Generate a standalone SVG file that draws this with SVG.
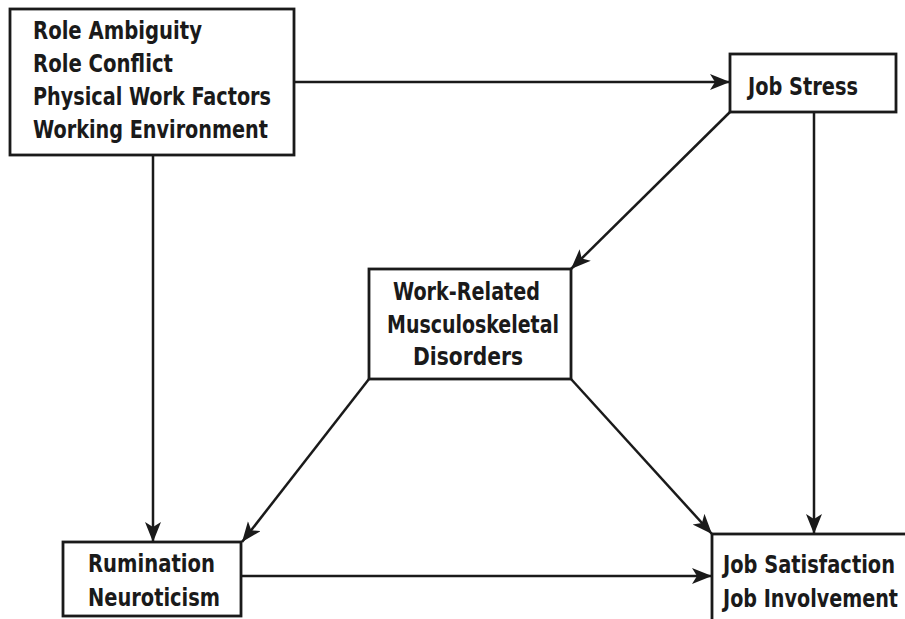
<svg xmlns="http://www.w3.org/2000/svg" width="905" height="619" viewBox="0 0 905 619">
<style>
.box{fill:#fff;stroke:#1a1a1a;stroke-width:2.8}
.lbl{font-family:"DejaVu Sans Condensed","DejaVu Sans",sans-serif;font-stretch:condensed;font-weight:bold;font-size:25px;fill:#1a1a1a}
.edge{fill:none;stroke:#1a1a1a;stroke-width:2.5}
</style>
<defs>
<marker id="ah" markerUnits="userSpaceOnUse" markerWidth="22" markerHeight="18" refX="20" refY="8" orient="auto">
<path d="M0,0 L20,8 L0,16 L5,8 z" fill="#1a1a1a"/>
</marker>
</defs>
<rect width="905" height="619" fill="#fff"/>
<g id="connectors">
<line class="edge" x1="294" y1="82" x2="730" y2="82" marker-end="url(#ah)"/>
<line class="edge" x1="153" y1="155" x2="153" y2="542" marker-end="url(#ah)"/>
<line class="edge" x1="730" y1="112" x2="571" y2="269" marker-end="url(#ah)"/>
<line class="edge" x1="814" y1="112" x2="814" y2="534" marker-end="url(#ah)"/>
<line class="edge" x1="369" y1="379" x2="242" y2="542" marker-end="url(#ah)"/>
<line class="edge" x1="571" y1="379" x2="712" y2="534" marker-end="url(#ah)"/>
<line class="edge" x1="241" y1="576" x2="712" y2="576" marker-end="url(#ah)"/>
</g>
<g id="antecedents">
<rect class="box" x="10" y="9" width="284" height="146"/>
<text class="lbl" x="33" y="39" textLength="169" lengthAdjust="spacingAndGlyphs">Role Ambiguity</text>
<text class="lbl" x="33" y="72" textLength="140" lengthAdjust="spacingAndGlyphs">Role Conflict</text>
<text class="lbl" x="33" y="105" textLength="238" lengthAdjust="spacingAndGlyphs">Physical Work Factors</text>
<text class="lbl" x="33" y="138" textLength="235" lengthAdjust="spacingAndGlyphs">Working Environment</text>
</g>
<g id="job-stress">
<rect class="box" x="730" y="54" width="166" height="58"/>
<text class="lbl" x="748" y="95" textLength="110" lengthAdjust="spacingAndGlyphs">Job Stress</text>
</g>
<g id="wrmsd">
<rect class="box" x="369" y="269" width="202" height="110"/>
<text class="lbl" x="393" y="300" textLength="147" lengthAdjust="spacingAndGlyphs">Work-Related</text>
<text class="lbl" x="387" y="333" textLength="172" lengthAdjust="spacingAndGlyphs">Musculoskeletal</text>
<text class="lbl" x="413" y="365" textLength="110" lengthAdjust="spacingAndGlyphs">Disorders</text>
</g>
<g id="rumination">
<rect class="box" x="63" y="542" width="178" height="74"/>
<text class="lbl" x="88" y="572" textLength="127" lengthAdjust="spacingAndGlyphs">Rumination</text>
<text class="lbl" x="88" y="606" textLength="132" lengthAdjust="spacingAndGlyphs">Neuroticism</text>
</g>
<g id="job-satisfaction">
<rect class="box" x="712" y="534" width="300" height="200"/>
<text class="lbl" x="723" y="573" textLength="172" lengthAdjust="spacingAndGlyphs">Job Satisfaction</text>
<text class="lbl" x="723" y="607" textLength="175" lengthAdjust="spacingAndGlyphs">Job Involvement</text>
</g>
</svg>
